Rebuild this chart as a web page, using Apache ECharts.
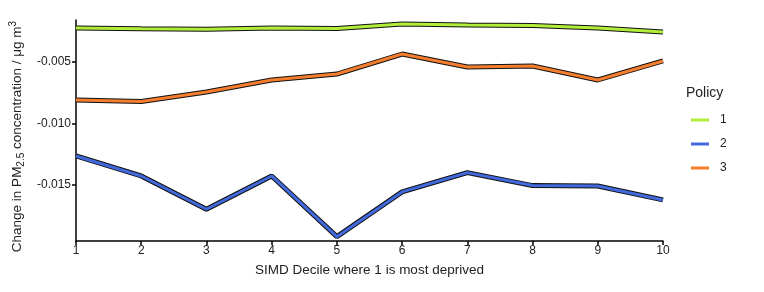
<!DOCTYPE html>
<html>
<head>
<meta charset="utf-8">
<script src="https://cdn.jsdelivr.net/npm/echarts@6/dist/echarts.min.js"></script>
<style>
  html, body { margin: 0; padding: 0; background: #fff; }
  #chart { width: 764px; height: 292px; }
</style>
</head>
<body>
<div id="chart"></div>
<script>
// SIMD deciles
var deciles = [1, 2, 3, 4, 5, 6, 7, 8, 9, 10];
// change in PM2.5 per policy
var policy1 = [-0.00227, -0.00233, -0.00236, -0.00227, -0.00231, -0.00195, -0.00203, -0.00207, -0.00227, -0.00259];
var policy2 = [-0.01264, -0.01426, -0.01696, -0.01426, -0.01918, -0.01555, -0.01399, -0.01504, -0.01507, -0.01620];
var policy3 = [-0.00810, -0.00822, -0.00745, -0.00648, -0.00600, -0.00438, -0.00543, -0.00535, -0.00648, -0.00494];
var yTicks = [-0.015, -0.010, -0.005];
var policyNames = ['1', '2', '3'];
var colors = ['#b0ee3a', '#4169dc', '#f47d2e'];

function pairs(vals) {
  return deciles.map(function (d, i) { return [d, vals[i]]; });
}

var chart = echarts.init(document.getElementById('chart'));
var allVals = [policy1, policy2, policy3];
var series = [];
// black outline underneath
allVals.forEach(function (v, i) {
  series.push({
    name: 'outline' + i, type: 'line', data: pairs(v), symbol: 'none',
    silent: true, z: 2,
    lineStyle: { color: '#111', width: 5 }
  });
});
allVals.forEach(function (v, i) {
  series.push({
    name: policyNames[i], type: 'line', data: pairs(v), symbol: 'none',
    z: 3, color: colors[i],
    lineStyle: { color: colors[i], width: 3 }
  });
});

var option = {
  animation: false,
  textStyle: { fontFamily: 'Liberation Sans, Arial, sans-serif' },
  grid: { left: 76, right: 101, top: 20, bottom: 51, outerBoundsMode: 'none', containLabel: false },
  legend: {
    data: policyNames,
    orient: 'vertical',
    left: 686, top: 109,
    itemWidth: 18, itemHeight: 3, itemGap: 12,
    icon: 'rect',
    textStyle: { fontSize: 12, color: '#222', padding: [0, 0, 0, 6] }
  },
  graphic: [{
    type: 'text', left: 686, top: 86,
    style: { text: 'Policy', fontSize: 14, fill: '#222', fontFamily: 'Liberation Sans, Arial, sans-serif' }
  }],
  xAxis: {
    type: 'value', min: 1, max: 10, interval: 1,
    name: 'SIMD Decile where 1 is most deprived',
    nameLocation: 'middle', nameGap: 22,
    nameTextStyle: { fontSize: 13.5, color: '#222' },
    axisLine: { lineStyle: { color: '#000', width: 1.5 } },
    axisTick: { length: 4, lineStyle: { color: '#000', width: 1.5 } },
    axisLabel: { fontSize: 12, color: '#222', margin: 4 },
    splitLine: { show: false }
  },
  yAxis: {
    type: 'value', min: -0.01953, max: -0.00162,
    name: '{n|Change in PM}{sub|2.5}{n| concentration / μg m}{sup|3}',
    nameLocation: 'middle', nameRotate: 90, nameGap: 48,
    nameTextStyle: {
      padding: [0, 12, 0, 0],
      rich: {
        n: { fontSize: 13.5, color: '#222', lineHeight: 18, verticalAlign: 'middle' },
        sub: { fontSize: 10, color: '#222', lineHeight: 18, verticalAlign: 'bottom' },
        sup: { fontSize: 10, color: '#222', lineHeight: 18, verticalAlign: 'top' }
      }
    },
    axisLine: { show: true, lineStyle: { color: '#000', width: 1.5 } },
    axisTick: { show: true, length: 4, customValues: yTicks, lineStyle: { color: '#000', width: 1.5 } },
    axisLabel: {
      fontSize: 12, color: '#222', margin: 5, customValues: yTicks,
      formatter: function (v) { return v.toFixed(3); }
    },
    splitLine: { show: false }
  },
  series: series
};
chart.setOption(option);
</script>
</body>
</html>
